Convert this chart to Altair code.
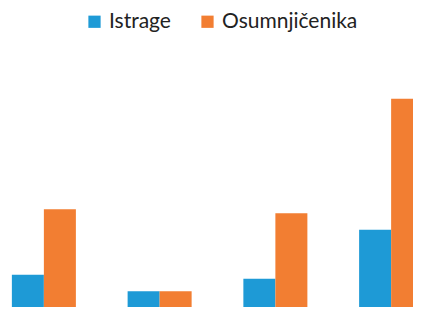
import altair as alt
import pandas as pd

groups = ["A", "B", "C", "D"]
series = ["Istrage", "Osumnjičenika"]
istrage = [33, 16, 29, 79]
osumnjicenika = [100, 16, 96, 213]
colors = ["#1E9AD6", "#F27E32"]

rows = []
for g, a, b in zip(groups, istrage, osumnjicenika):
    rows.append({"grupa": g, "serija": series[0], "vrijednost": a})
    rows.append({"grupa": g, "serija": series[1], "vrijednost": b})
df = pd.DataFrame(rows)

chart = alt.Chart(df).mark_bar().encode(
    x=alt.X("grupa:N", axis=None, sort=groups,
            scale=alt.Scale(range=[-22, 441], paddingInner=0.447, paddingOuter=0.2235)),
    xOffset=alt.XOffset("serija:N", sort=series),
    y=alt.Y("vrijednost:Q", axis=None, scale=alt.Scale(domain=[0, 306], nice=False)),
    color=alt.Color("serija:N", sort=series,
                    scale=alt.Scale(domain=series, range=colors),
                    legend=alt.Legend(title=None, orient="none", direction="horizontal",
                                      legendX=76, legendY=3, padding=0, symbolType="square",
                                      symbolSize=150, symbolStrokeWidth=0,
                                      labelFontSize=21, labelFont="Lato", labelColor="#222",
                                      columnPadding=26, symbolOffset=0, labelOffset=4)),
).properties(
    width=405, height=299, padding=0,
    autosize=alt.AutoSizeParams(type="none"),
).configure_view(stroke=None)

chart.save("out.html", embed_options={"renderer": "svg", "actions": False})
